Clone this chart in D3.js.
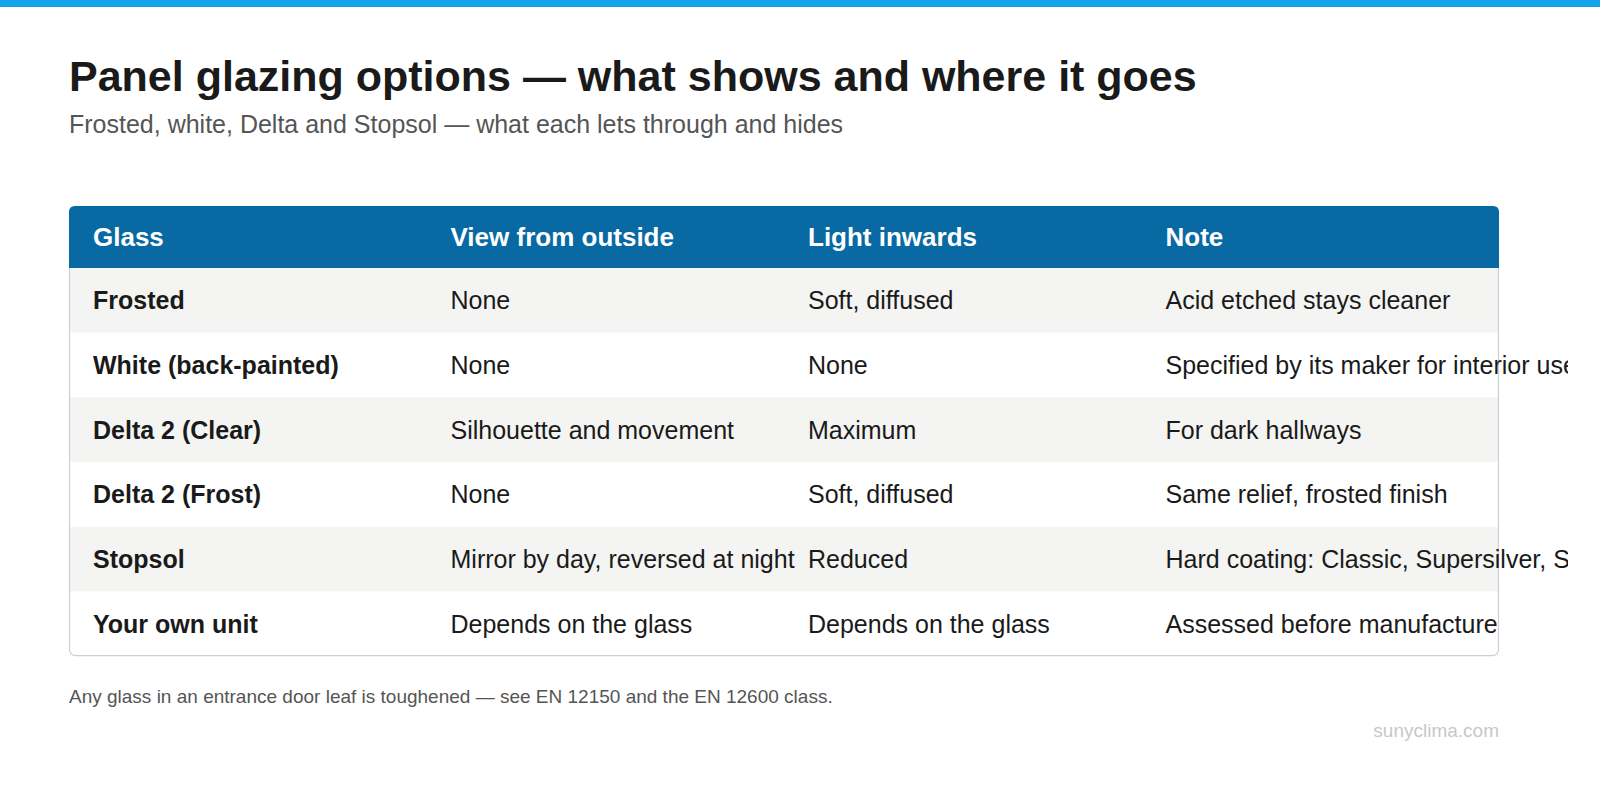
<!DOCTYPE html>
<html><head><meta charset="utf-8">
<script src="https://cdn.jsdelivr.net/npm/d3@7"></script>
<style>body{margin:0;background:#fff}svg{display:block}</style>
</head><body><svg id="c" width="1600" height="788"></svg>
<script>
const columns = ["Glass","View from outside","Light inwards","Note"];
const glass = ["Frosted","White (back-painted)","Delta 2 (Clear)","Delta 2 (Frost)","Stopsol","Your own unit"];
const viewOutside = ["None","None","Silhouette and movement","None","Mirror by day, reversed at night","Depends on the glass"];
const lightInwards = ["Soft, diffused","None","Maximum","Soft, diffused","Reduced","Depends on the glass"];
const notes = ["Acid etched stays cleaner","Specified by its maker for interior use","For dark hallways","Same relief, frosted finish","Hard coating: Classic, Supersilver, Silver","Assessed before manufacture"];

const rows = glass.map((g,i)=>[g,viewOutside[i],lightInwards[i],notes[i]]);
const svg = d3.select("#c");
const font = "'Liberation Sans', Arial, Helvetica, sans-serif";
svg.append("rect").attr("width",1600).attr("height",7).attr("fill","#12a5e8");
svg.append("text").attr("x",69).attr("y",91).attr("font-family",font).attr("font-weight","bold")
  .attr("font-size",43).attr("fill","#1a1a1a").text("Panel glazing options — what shows and where it goes");
svg.append("text").attr("x",69).attr("y",133).attr("font-family",font)
  .attr("font-size",25).attr("fill","#555").text("Frosted, white, Delta and Stopsol — what each lets through and hides");

const L=69,R=1499,T=206,H=62,RH=64.7;
const x = d3.scaleBand().domain(columns).range([L,R]);
const y = d3.scaleBand().domain(glass).range([T+H,T+H+RH*glass.length]);
svg.append("defs").append("clipPath").attr("id","pg").append("rect").attr("x",0).attr("y",0).attr("width",1568).attr("height",788);

const g = svg.append("g");
g.append("rect").attr("x",L+0.5).attr("y",T+0.5).attr("width",R-L-1).attr("height",H+RH*glass.length-1)
  .attr("rx",6).attr("fill","#fff");
g.selectAll("rect.row").data(glass).join("rect").attr("class","row")
  .attr("x",L+1).attr("width",R-L-2).attr("y",d=>y(d)).attr("height",y.bandwidth())
  .attr("fill",(d,i)=>i%2===0?"#f4f4f2":"#fff");
g.append("rect").attr("x",L+0.5).attr("y",T+0.5).attr("width",R-L-1).attr("height",H+RH*glass.length-1)
  .attr("rx",6).attr("fill","none").attr("stroke","#cfcfcf").attr("stroke-width",1.2);
g.append("path").attr("fill","#0869a3").attr("d",
 `M${L},${T+H} L${L},${T+6} Q${L},${T} ${L+6},${T} L${R-6},${T} Q${R},${T} ${R},${T+6} L${R},${T+H} Z`);
g.selectAll("text.h").data(columns).join("text").attr("class","h")
  .attr("x",d=>x(d)+24).attr("y",T+H/2+9).attr("font-family",font).attr("font-weight","bold")
  .attr("font-size",26).attr("fill","#fff").text(d=>d);
const cells = svg.append("g").attr("clip-path","url(#pg)");
rows.forEach((r,i)=>{
  r.forEach((v,j)=>{
    cells.append("text").attr("x",x(columns[j])+24).attr("y",y(glass[i])+y.bandwidth()/2+9)
      .attr("font-family",font).attr("font-size",25).attr("font-weight",j===0?"bold":"normal")
      .attr("fill","#1a1a1a").text(v);
  });
});
svg.append("text").attr("x",69).attr("y",703).attr("font-family",font)
  .attr("font-size",19).attr("fill","#555").text("Any glass in an entrance door leaf is toughened — see EN 12150 and the EN 12600 class.");
svg.append("text").attr("x",1499).attr("y",737).attr("text-anchor","end").attr("font-family",font)
  .attr("font-size",19).attr("fill","#c8c8c8").text("sunyclima.com");
</script></body></html>
